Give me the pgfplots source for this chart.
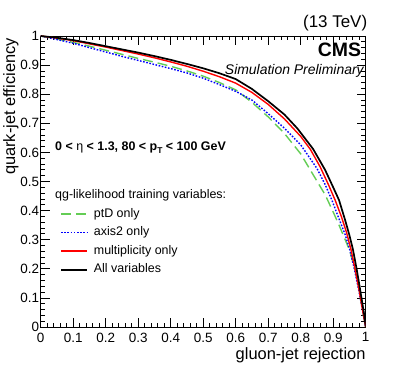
\documentclass[border=0pt]{standalone}
\usepackage{fontspec}
\setmainfont{Liberation Sans}
\usepackage{pgfplots}
\usepackage{pgfplotstable}
\pgfplotsset{compat=1.18}

\definecolor{rootgreen}{RGB}{100,205,85}
\definecolor{rootred}{RGB}{255,0,0}
\definecolor{rootblue}{RGB}{0,0,255}

% gluon-jet rejection vs quark-jet efficiency
\pgfplotstableread{
x y
0.000 1.000
0.050 0.990
0.100 0.978
0.150 0.965
0.200 0.951
0.250 0.937
0.300 0.923
0.350 0.910
0.400 0.896
0.450 0.880
0.500 0.862
0.550 0.840
0.600 0.815
0.650 0.772
0.700 0.722
0.750 0.665
0.800 0.595
0.840 0.520
0.875 0.455
0.900 0.395
0.918 0.350
0.935 0.305
0.951 0.262
0.967 0.196
0.978 0.140
0.985 0.093
0.993 0.040
1.000 0.000
}\ptdonly

\pgfplotstableread{
x y
0.000 1.000
0.050 0.988
0.100 0.975
0.150 0.960
0.200 0.945
0.250 0.930
0.300 0.916
0.350 0.902
0.400 0.888
0.450 0.873
0.500 0.855
0.550 0.833
0.600 0.810
0.650 0.780
0.700 0.733
0.750 0.683
0.800 0.626
0.850 0.545
0.875 0.490
0.896 0.436
0.915 0.380
0.936 0.320
0.950 0.270
0.965 0.200
0.978 0.130
0.990 0.060
1.000 0.000
}\axistwo

\pgfplotstableread{
x y
0.000 1.000
0.050 0.993
0.100 0.984
0.150 0.973
0.200 0.962
0.250 0.950
0.300 0.938
0.350 0.925
0.400 0.911
0.450 0.896
0.500 0.879
0.550 0.860
0.600 0.838
0.650 0.806
0.700 0.765
0.750 0.715
0.800 0.655
0.830 0.610
0.860 0.550
0.885 0.490
0.906 0.436
0.925 0.380
0.941 0.325
0.955 0.265
0.968 0.195
0.980 0.125
0.990 0.060
1.000 0.000
}\multonly

\pgfplotstableread{
x y
0.000 1.000
0.050 0.994
0.100 0.986
0.150 0.976
0.200 0.965
0.250 0.954
0.300 0.943
0.350 0.931
0.400 0.918
0.450 0.904
0.500 0.889
0.550 0.872
0.600 0.852
0.650 0.818
0.700 0.776
0.750 0.730
0.790 0.682
0.838 0.612
0.875 0.540
0.900 0.480
0.918 0.436
0.936 0.370
0.950 0.315
0.961 0.265
0.972 0.200
0.980 0.148
0.988 0.093
0.995 0.045
1.000 0.000
}\allvars

\begin{document}
\begin{tikzpicture}
\useasboundingbox (-40.7bp,-39bp) rectangle (366.3bp,327bp);
\begin{axis}[
    scale only axis,
    width=325bp, height=291bp,
    xmin=0, xmax=1, ymin=0, ymax=1,
    xtick distance=0.1, ytick distance=0.1,
    minor tick num=4,
    tick align=inside,
    major tick length=9bp,
    minor tick length=4.5bp,
    axis line style={line width=0.8bp},
    every tick/.style={black, line width=0.8bp},
    /pgf/number format/assume math mode=true,
    ticklabel style={font=\fontsize{13.5}{15}\selectfont},
    xticklabel style={inner sep=0pt, anchor=north, yshift=-5.5bp},
    yticklabel style={inner sep=0pt, anchor=east, xshift=-1.5bp},
    xlabel={gluon-jet rejection},
    ylabel={quark-jet efficiency},
    label style={font=\fontsize{16.5}{19}\selectfont, inner sep=0pt},
    xlabel style={at={(rel axis cs:1,0)}, anchor=east, yshift=-28.7bp},
    ylabel style={at={(rel axis cs:0,1)}, anchor=east, xshift=-2bp, yshift=29.7bp},
    legend style={at={(rel axis cs:0.0594,0.409)}, anchor=north west,
        draw=none, fill=none, inner sep=0pt, row sep=6.5bp,
        font=\fontsize{12.5}{14}\selectfont,
        nodes={inner sep=0pt, text height=9bp, text depth=3bp},
        /tikz/every odd column/.append style={column sep=6bp}},
    legend cell align=left,
    legend image code/.code={\draw[#1] (0bp,0bp) -- (26bp,0bp);},
    clip mode=individual,
]
\addplot[draw=rootgreen, line width=1.4bp, dash pattern=on 10bp off 5bp] table[x=x, y=y] {\ptdonly};
\addlegendentry{ptD only}
\addplot[draw=rootblue, line width=1.4bp, dash pattern=on 1.6bp off 1.6bp] table[x=x, y=y] {\axistwo};
\addlegendentry{axis2 only}
\addplot[draw=rootred, line width=1.4bp] table[x=x, y=y] {\multonly};
\addlegendentry{multiplicity only}
\addplot[draw=black, line width=1.7bp] table[x=x, y=y] {\allvars};
\addlegendentry{All variables}

\node[anchor=east, inner sep=0pt, font=\fontsize{19.5}{21}\selectfont\bfseries] at (rel axis cs:0.9865,0.952) {CMS};
\node[anchor=east, inner sep=0pt, font=\fontsize{14}{16}\selectfont\itshape] at (rel axis cs:0.9945,0.880) {Simulation Preliminary};
\node[anchor=west, inner sep=0pt, font=\fontsize{12.5}{14}\selectfont\bfseries] at (rel axis cs:0.044,0.615)
    {0 < {\mdseries η} < 1.3, 80 < p\raisebox{-0.45ex}{\fontsize{8.5}{9}\selectfont T} < 100 GeV};
\node[anchor=west, inner sep=0pt, font=\fontsize{12.5}{14}\selectfont] at (rel axis cs:0.044,0.4536)
    {qg-likelihood training variables:};
\node[anchor=east, inner sep=0pt, font=\fontsize{17}{19}\selectfont] at (rel axis cs:1.005,1.0) [yshift=13bp] {(13 TeV)};
\end{axis}
\end{tikzpicture}
\end{document}
